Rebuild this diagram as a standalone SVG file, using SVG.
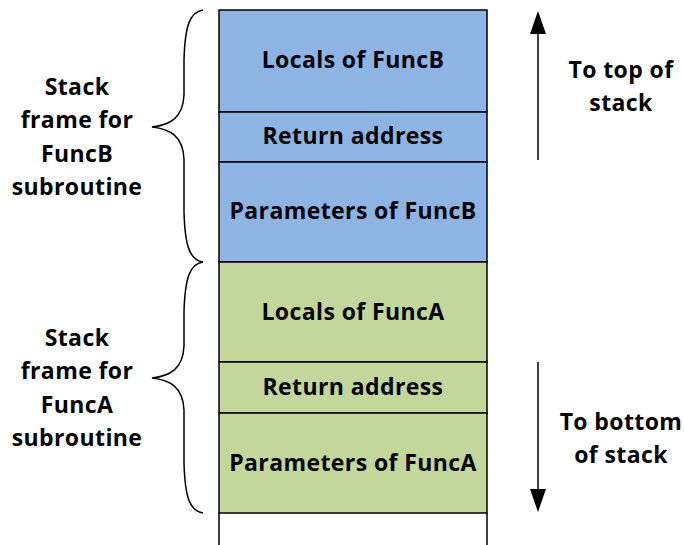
<svg xmlns="http://www.w3.org/2000/svg" width="684" height="545" viewBox="0 0 684 545">
<style>
.t{font-family:"Open Sans","Liberation Sans",sans-serif;font-weight:bold;font-size:23px;letter-spacing:0.4px;fill:#000;text-anchor:middle}
.b{fill:#8EB4E3;stroke:#000;stroke-width:1.5}
.g{fill:#C3D69B;stroke:#000;stroke-width:1.5}
.e{fill:#fff;stroke:#000;stroke-width:1.5}
.br{fill:none;stroke:#000;stroke-width:1.5}
.ln{stroke:#000;stroke-width:1.5}
</style>
<g id="empty"><path class="e" d="M219,513 L219,546 M487,513 L487,546"/></g>
<g id="localsB"><rect class="b" x="219" y="10" width="268" height="102"/><text class="t" x="353" y="68">Locals of FuncB</text></g>
<g id="retB"><rect class="b" x="219" y="112" width="268" height="50"/><text class="t" x="353" y="144">Return address</text></g>
<g id="paramsB"><rect class="b" x="219" y="162" width="268" height="100"/><text class="t" x="353" y="219">Parameters of FuncB</text></g>
<g id="localsA"><rect class="g" x="219" y="262" width="268" height="100"/><text class="t" x="353" y="320">Locals of FuncA</text></g>
<g id="retA"><rect class="g" x="219" y="362" width="268" height="51"/><text class="t" x="353" y="395">Return address</text></g>
<g id="paramsA"><rect class="g" x="219" y="413" width="268" height="100"/><text class="t" x="353" y="471">Parameters of FuncA</text></g>
<g id="braceB"><path class="br" d="M203,10 C190,12 185,25 184,60 L184,95 C183,118 170,125 152,127 C170,129 183,136 184,159 L184,212 C185,247 190,260 203,262"/>
<text class="t" x="77" y="95">Stack</text><text class="t" x="77" y="128">frame for</text><text class="t" x="77" y="162">FuncB</text><text class="t" x="77" y="195">subroutine</text></g>
<g id="braceA"><path class="br" d="M203,262 C190,264 185,277 184,312 L184,346 C183,369 170,376 152,378 C170,380 183,387 184,410 L184,463 C185,498 190,511 203,513"/>
<text class="t" x="77" y="346">Stack</text><text class="t" x="77" y="379">frame for</text><text class="t" x="77" y="413">FuncA</text><text class="t" x="77" y="446">subroutine</text></g>
<g id="connectors">
<path class="ln" d="M538,160 L538,30"/>
<path d="M530,34 L538,11 L546,34 z" fill="#000"/>
<path class="ln" d="M538,362 L538,492"/>
<path d="M530,489 L538,512 L546,489 z" fill="#000"/>
</g>
<g id="lblTop"><text class="t" x="621" y="78">To top of</text><text class="t" x="621" y="111">stack</text></g>
<g id="lblBot"><text class="t" x="621" y="430">To bottom</text><text class="t" x="621" y="463">of stack</text></g>
</svg>
